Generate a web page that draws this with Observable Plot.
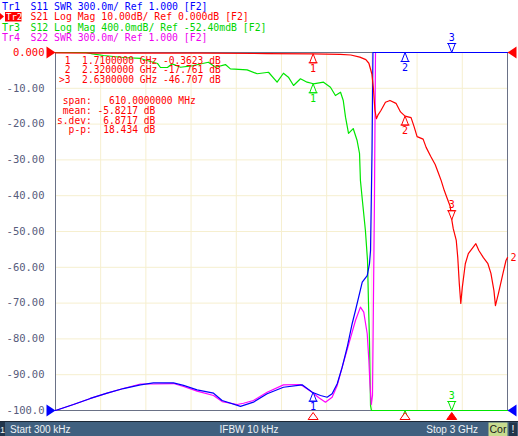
<!DOCTYPE html>
<html>
<head>
<meta charset="utf-8">
<script src="https://cdn.jsdelivr.net/npm/d3@7"></script>
<script src="https://cdn.jsdelivr.net/npm/@observablehq/plot@0.6"></script>
<style>
  html, body { margin: 0; padding: 0; background: #fff; overflow: hidden; }
  svg text { white-space: pre; }
</style>
</head>
<body>
<div id="chart"></div>
<script>
// ---------- data ----------
const yTicks = [0, -10, -20, -30, -40, -50, -60, -70, -80, -90, -100];
const yTickLabels = ["0.000", "-10.00", "-20.00", "-30.00", "-40.00", "-50.00", "-60.00", "-70.00", "-80.00", "-90.00", "-100.0"];
const xGridGHz = [0.3, 0.6, 0.9, 1.2, 1.5, 1.8, 2.1, 2.4, 2.7];

// Tr2 S21 Log Mag (dB)
const s21Freq = [0.0003, 0.30, 0.96, 1.40, 1.71, 1.89, 1.96, 2.02, 2.06, 2.08,
                 2.10, 2.11, 2.12, 2.13, 2.14, 2.16, 2.19, 2.22, 2.26, 2.29,
                 2.32, 2.36, 2.38, 2.40, 2.44, 2.46, 2.49, 2.52, 2.54, 2.56,
                 2.58, 2.60, 2.62, 2.63, 2.64, 2.66, 2.67, 2.68, 2.69, 2.70,
                 2.72, 2.74, 2.77, 2.79, 2.81, 2.84, 2.87, 2.89, 2.91, 2.92,
                 2.94, 2.97, 2.99, 3.00];
const s21Db = [-0.10, -0.15, -0.20, -0.30, -0.3623, -0.50, -0.70, -1.30, -2.00, -3.00,
               -6.0, -10.0, -16.0, -18.5, -17.5, -16.2, -13.9, -13.4, -14.2, -16.6,
               -17.761, -18.2, -20.7, -23.5, -24.2, -26.5, -29.0, -31.3, -33.5, -35.8,
               -38.5, -40.8, -43.0, -46.707, -49.2, -52.5, -57.3, -64.5, -70.1, -65.6,
               -59.0, -56.2, -54.5, -53.4, -55.3, -57.3, -59.0, -61.7, -66.5, -70.7,
               -67.3, -61.7, -58.1, -57.3];

// Tr3 S12 Log Mag (dB), 400 mdB/div, ref -52.40 mdB at top
const s12Freq = [0.0003, 0.200, 0.246, 0.319, 0.451, 0.564, 0.631, 0.677, 0.697, 0.743,
                 0.775, 0.830, 0.916, 1.015, 1.062, 1.128, 1.161, 1.272, 1.339, 1.414,
                 1.471, 1.513, 1.546, 1.580, 1.626, 1.670, 1.712, 1.779, 1.825, 1.858,
                 1.892, 1.910, 1.925, 1.945, 1.976, 2.002, 2.018, 2.024, 2.037, 2.057,
                 2.071, 2.077, 2.084, 2.091, 2.097, 3.000];
const s12Db = [0.00, 0.00, -0.067, -0.086, -0.108, -0.119, -0.153, -0.175, -0.220, -0.220,
               -0.179, -0.217, -0.198, -0.161, -0.217, -0.187, -0.235, -0.246, -0.290, -0.273,
               -0.384, -0.284, -0.328, -0.421, -0.346, -0.384, -0.402, -0.384, -0.440, -0.533,
               -0.496, -0.589, -0.775, -0.957, -0.902, -1.036, -1.181, -1.483, -1.706, -2.041,
               -2.376, -2.823, -3.270, -3.997, -4.30, -4.50];

// Tr1 S11 SWR, 300m/div, ref 1.000 at bottom
const s11Freq = [0.0003, 0.1195, 0.232, 0.343, 0.451, 0.564, 0.650, 0.783, 0.850, 0.940,
                 1.049, 1.106, 1.228, 1.314, 1.405, 1.513, 1.637, 1.704, 1.759, 1.803,
                 1.836, 1.870, 1.903, 1.936, 1.969, 1.991, 2.036, 2.069, 2.084, 2.091,
                 2.101, 2.107, 2.500, 3.000];
const s11Swr = [1.000, 1.050, 1.101, 1.145, 1.184, 1.215, 1.232, 1.232, 1.210, 1.173,
                1.145, 1.084, 1.034, 1.070, 1.140, 1.195, 1.215, 1.153, 1.126, 1.111,
                1.140, 1.224, 1.363, 1.530, 1.727, 1.838, 2.075, 2.131, 2.229, 2.341,
                3.180, 5.000, 9.000, 9.000];

// Tr4 S22 SWR, 300m/div, ref 1.000 at bottom
const s22Freq = [0.0003, 0.1195, 0.232, 0.343, 0.451, 0.564, 0.650, 0.783, 0.850, 0.940,
                 1.049, 1.106, 1.206, 1.248, 1.314, 1.405, 1.513, 1.626, 1.704, 1.746,
                 1.792, 1.836, 1.870, 1.903, 1.947, 1.991, 2.024, 2.046, 2.069, 2.080,
                 2.087, 2.096, 2.104, 2.117, 2.124, 2.500, 3.000];
const s22Swr = [1.000, 1.050, 1.101, 1.145, 1.184, 1.222, 1.222, 1.226, 1.201, 1.162,
                1.126, 1.075, 1.050, 1.061, 1.084, 1.153, 1.215, 1.218, 1.153, 1.109,
                1.070, 1.111, 1.210, 1.363, 1.559, 1.754, 1.866, 1.824, 1.643, 1.419,
                1.224, 1.050, 1.126, 2.760, 4.500, 9.000, 9.000];

// markers
const markerFreq = [1.71, 2.32, 2.63];
const markerS21 = [-0.3623, -17.761, -46.707];
const markerS12 = [-0.402, -4.5, -4.5];
const markerS11 = [1.153, 9.0, 9.0];

const headerLines = [
  {tr: "Tr1", text: "S11 SWR 300.0m/ Ref 1.000 [F2]", color: "#0000ff"},
  {tr: "Tr2", text: "S21 Log Mag 10.00dB/ Ref 0.000dB [F2]", color: "#ff0000"},
  {tr: "Tr3", text: "S12 Log Mag 400.0mdB/ Ref -52.40mdB [F2]", color: "#00d400"},
  {tr: "Tr4", text: "S22 SWR 300.0m/ Ref 1.000 [F2]", color: "#ee00ee"}
];
const readoutLines = [
  " 1  1.7100000 GHz -0.3623 dB",
  " 2  2.3200000 GHz -17.761 dB",
  ">3  2.6300000 GHz -46.707 dB"
];
const statsLines = [
  "  span:   610.0000000 MHz",
  "  mean: -5.8217 dB",
  " s.dev:  6.8717 dB",
  "   p-p:  18.434 dB"
];
const statusStart = "Start 300 kHz";
const statusIfbw = "IFBW 10 kHz";
const statusStop = "Stop 3 GHz";

// ---------- colours ----------
const RED = "#ff0000", BLUE = "#0000ff", GREEN = "#00e600", MAG = "#ff00ff";

// ---------- conversion of each trace to the common screen scale ----------
const clamp = v => Math.max(-100, Math.min(0, v));
const gridS21 = v => clamp(v);
const gridS12 = v => clamp((v + 0.0524) / 0.4 * 10);
const gridSWR = v => clamp(-100 + (v - 1) / 0.3 * 10);
const series = (freq, vals, conv) => freq.map((f, i) => ({f, y: conv(vals[i])}));

const red = series(s21Freq, s21Db, gridS21);
const green = series(s12Freq, s12Db, gridS12);
const blue = series(s11Freq, s11Swr, gridSWR);
const mag = series(s22Freq, s22Swr, gridSWR);

const markerRows = [];
markerFreq.forEach((f, i) => {
  markerRows.push({f, y: gridS12(markerS12[i]), color: GREEN, i});
  markerRows.push({f, y: gridSWR(markerS11[i]), color: BLUE, i});
  markerRows.push({f, y: gridS21(markerS21[i]), color: RED, i});
});
const upRows = markerRows.filter(d => d.i < 2);
const downRows = markerRows.filter(d => d.i === 2);

// symbols
const upTri = {draw(c) { c.moveTo(0, 0); c.lineTo(3.5, 9); c.lineTo(-3.5, 9); c.closePath(); c.moveTo(-4.5, 9); c.lineTo(4.5, 9); }};
const downTri = {draw(c) { c.moveTo(0, 0); c.lineTo(3.5, -9); c.lineTo(-3.5, -9); c.closePath(); c.moveTo(-4.5, -9); c.lineTo(4.5, -9); }};
const stimTri = {draw(c) { c.moveTo(0, 0); c.lineTo(5, 7); c.lineTo(-5, 7); c.closePath(); }};
const refRight = {draw(c) { c.moveTo(0, 0); c.lineTo(-9, -6); c.lineTo(-9, 6); c.closePath(); }};
const refLeft = {draw(c) { c.moveTo(0, 0); c.lineTo(9, -6); c.lineTo(9, 6); c.closePath(); }};

const stimRows = markerFreq.map((f, i) => ({f, fill: i === 2 ? RED : "white"}));
const refRows = [
  {f: 0.0003, y: 0, c: RED, side: "l"}, {f: 0.0003, y: -100, c: BLUE, side: "l"},
  {f: 3, y: 0, c: RED, side: "r"}, {f: 3, y: -100, c: BLUE, side: "r"}
];

const chart = Plot.plot({
  width: 518, height: 436,
  marginTop: 52, marginBottom: 26, marginLeft: 55, marginRight: 11,
  x: {domain: [0.0003, 3], axis: null},
  y: {domain: [-100, 0], axis: null},
  style: {fontFamily: "DejaVu Sans Mono", fontSize: "10px", background: "white", overflow: "visible"},
  marks: [
    Plot.gridX(xGridGHz, {stroke: "#f6efcf", strokeOpacity: 1}),
    Plot.gridY(yTicks, {stroke: "#f6efcf", strokeOpacity: 1}),
    Plot.frame({stroke: "#6a7186", strokeWidth: 1}),
    Plot.text(yTicks, {
      y: d => d, frameAnchor: "left", dx: -11, textAnchor: "end",
      text: (d, i) => yTickLabels[i], fill: (d, i) => i === 0 ? RED : "#575c7c",
      fontSize: 10.5
    }),
    Plot.line(green, {x: "f", y: "y", stroke: GREEN, strokeWidth: 1.2}),
    Plot.line(mag, {x: "f", y: "y", stroke: MAG, strokeWidth: 1.2}),
    Plot.line(blue, {x: "f", y: "y", stroke: BLUE, strokeWidth: 1.2}),
    Plot.line(red, {x: "f", y: "y", stroke: RED, strokeWidth: 1.2}),
    Plot.dot(upRows, {x: "f", y: "y", symbol: upTri, stroke: "color", fill: "white", strokeWidth: 1, r: 4}),
    Plot.text(upRows, {x: "f", y: "y", text: d => String(d.i + 1), fill: "color", dy: 15, fontSize: 10}),
    Plot.dot(downRows, {x: "f", y: "y", symbol: downTri, stroke: "color", fill: "white", strokeWidth: 1, r: 4}),
    Plot.text(downRows, {x: "f", y: "y", text: d => String(d.i + 1), fill: "color", dy: -15, fontSize: 10}),
    Plot.dot(stimRows, {x: "f", y: () => -100, dy: 2, symbol: stimTri, stroke: RED, fill: "fill", strokeWidth: 1, r: 4}),
    Plot.dot(refRows.filter(d => d.side === "l"), {x: "f", y: "y", symbol: refRight, fill: "c", stroke: "none", r: 4}),
    Plot.dot(refRows.filter(d => d.side === "r"), {x: "f", y: "y", symbol: refLeft, fill: "c", stroke: "none", r: 4}),
    Plot.text([red[red.length - 1]], {x: "f", y: "y", text: () => "2", fill: RED, dx: 6, textAnchor: "middle", fontSize: 10})
  ]
});

document.getElementById("chart").appendChild(chart);

// ---------- extra screen texts ----------
const svg = d3.select(chart);
const mono = "DejaVu Sans Mono";
const addText = (x, y, txt, opts = {}) => svg.append("text")
  .attr("x", x).attr("y", y)
  .attr("text-anchor", opts.anchor || "start")
  .attr("font-family", opts.font || mono)
  .attr("font-size", opts.size || 10)
  .attr("fill", opts.fill || "#000")
  .attr("xml:space", "preserve")
  .text(txt);

const hdrBase = [9.5, 20, 30.5, 41];
headerLines.forEach((h, i) => {
  if (i === 1) {
    svg.append("polygon").attr("points", "0,13 4,16.5 0,20").attr("fill", RED);
    svg.append("rect").attr("x", 5).attr("y", 12).attr("width", 16.5).attr("height", 9.5).attr("fill", RED);
    addText(6, hdrBase[i], h.tr, {size: 9, fill: "white"});
  } else {
    addText(2, hdrBase[i], h.tr, {size: 10, fill: h.color});
  }
  addText(30.5, hdrBase[i], h.text, {size: 9.8, fill: h.color});
});

const roBase = [63.5, 73.2, 83];
readoutLines.forEach((t, i) => addText(59, roBase[i], t, {size: 9.6, fill: RED}));
const stBase = [104.2, 113.7, 123.5, 133];
statsLines.forEach((t, i) => addText(51.3, stBase[i], t, {size: 9.6, fill: RED}));

// status bar
const sans = "Liberation Sans";
svg.append("rect").attr("x", 0).attr("y", 421).attr("width", 518).attr("height", 1.2).attr("fill", "#1c2836");
svg.append("rect").attr("x", 0).attr("y", 422).attr("width", 518).attr("height", 14).attr("fill", "#40607f");
svg.append("rect").attr("x", 0).attr("y", 422).attr("width", 5).attr("height", 14).attr("fill", "#22364c");
addText(0, 433, "1", {font: sans, size: 9, fill: "#f2f2f2"});
addText(10, 433, statusStart, {font: sans, size: 10, fill: "#eef2f6"});
addText(249, 433, statusIfbw, {font: sans, size: 10, fill: "#eef2f6", anchor: "middle"});
addText(478, 433, statusStop, {font: sans, size: 10, fill: "#eef2f6", anchor: "end"});
svg.append("rect").attr("x", 488.5).attr("y", 422.5).attr("width", 19).attr("height", 13.5).attr("fill", "#c7dc8f");
addText(498, 433, "Cor", {font: sans, size: 10.5, fill: "#1a1a1a", anchor: "middle"});
svg.append("rect").attr("x", 509).attr("y", 422.5).attr("width", 8).attr("height", 13.5).attr("fill", "#22364c");
addText(513, 433, "!", {font: sans, size: 10.5, fill: "#ffffff", anchor: "middle"});
</script>
</body>
</html>
